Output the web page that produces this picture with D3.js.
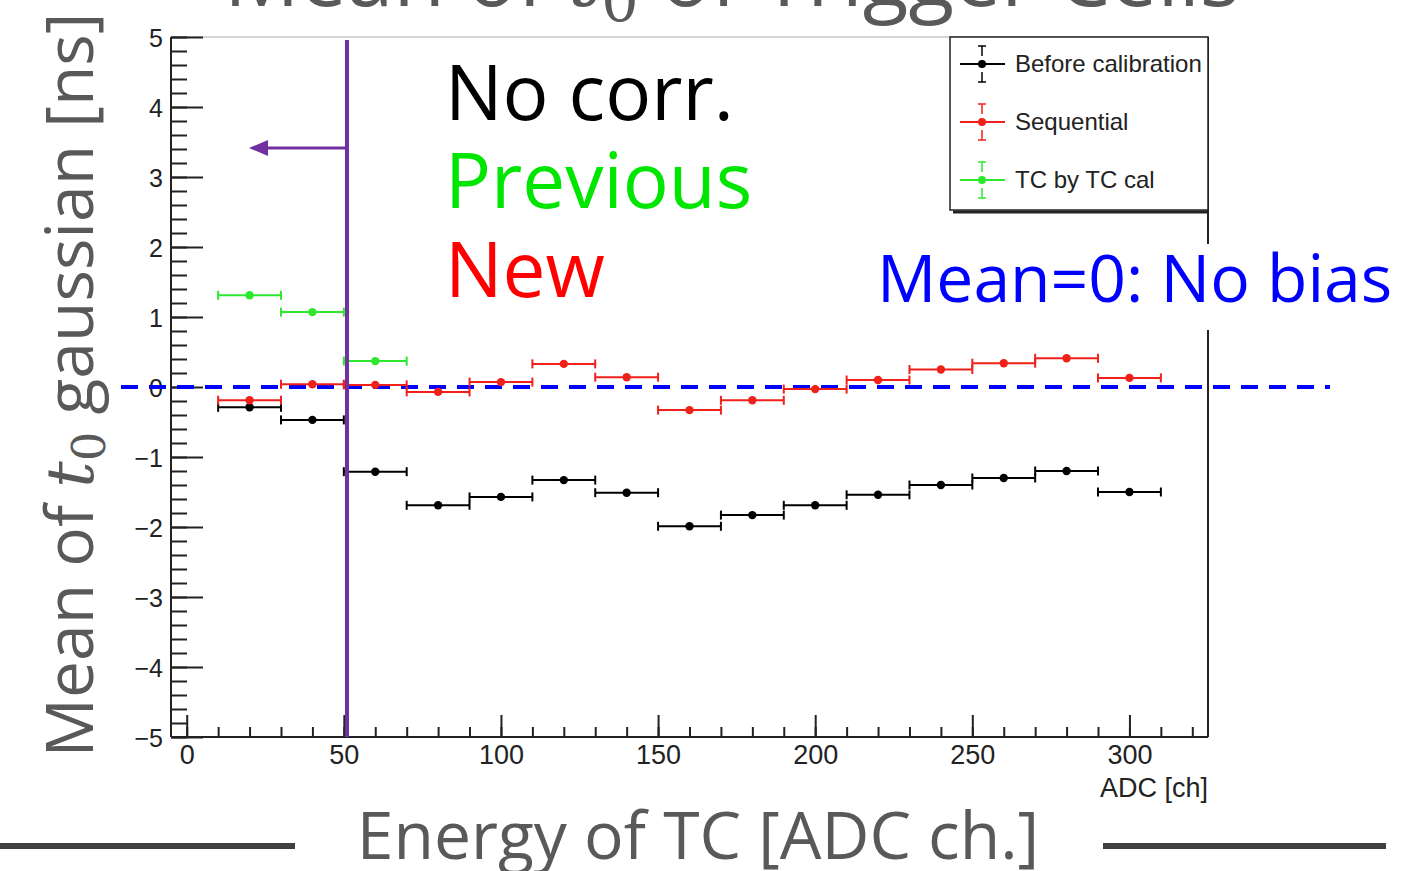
<!DOCTYPE html>
<html>
<head>
<meta charset="utf-8">
<script src="https://cdn.jsdelivr.net/npm/d3@7"></script>
<style>
  html, body { margin: 0; padding: 0; background: #fff; }
  svg { display: block; }
</style>
</head>
<body>
<svg id="chart" width="1426" height="871"></svg>
<script>
// ADC bin centres (bins are 20 ADC channels wide)
const adcBins = [20, 40, 60, 80, 100, 120, 140, 160, 180, 200, 220, 240, 260, 280, 300];
const binHalfWidth = 10;

// Mean of the t0 gaussian [ns] per bin
const beforeCalibration = [-0.29, -0.47, -1.21, -1.69, -1.57, -1.33, -1.51, -1.99, -1.83, -1.69, -1.54, -1.40, -1.30, -1.20, -1.50];
const sequential        = [-0.19, 0.04, 0.03, -0.07, 0.07, 0.33, 0.14, -0.33, -0.19, -0.03, 0.10, 0.25, 0.34, 0.41, 0.13];
const tcByTcBins        = [20, 40, 60];
const tcByTcCal         = [1.31, 1.07, 0.37];

// Axis ticks
const xMajorTicks = [0, 50, 100, 150, 200, 250, 300];
const xMinorTicks = d3.range(0, 330, 10);
const yMajorTicks = [-5, -4, -3, -2, -1, 0, 1, 2, 3, 4, 5];
const yMinorTicks = d3.range(-50, 51, 2).map(v => v / 10);

const legendLabels = ["Before calibration", "Sequential", "TC by TC cal"];
const cutValue = 51;   // energy threshold marker [ADC]

const svg = d3.select("#chart");
const W = 1426, H = 871;
svg.append("rect").attr("width", W).attr("height", H).attr("fill", "#fff");

const plot = { left: 171, right: 1208, top: 37, bottom: 737 };
const x = d3.scaleLinear().domain([-5, 325]).range([plot.left, plot.right]);
const y = d3.scaleLinear().domain([-5, 5]).range([plot.bottom, plot.top]);

const rootFont = "'Liberation Sans', Arial, Helvetica, sans-serif";
const slideFont = "'Open Sans', 'Noto Sans', sans-serif";
const slideGray = "#595959";

// ---- frame ----
svg.append("line").attr("x1", plot.left).attr("x2", plot.right)
  .attr("y1", plot.top).attr("y2", plot.top)
  .attr("stroke", "#d4d4d4").attr("stroke-width", 2);
svg.append("line").attr("x1", plot.right).attr("x2", plot.right)
  .attr("y1", plot.top).attr("y2", plot.bottom)
  .attr("stroke", "#222").attr("stroke-width", 2);

// ---- y axis (ROOT style: ticks point into the frame) ----
const yAxisG = svg.append("g").attr("transform", `translate(${plot.left},0)`);
yAxisG.call(d3.axisRight(y).tickValues(yMinorTicks).tickSize(16).tickFormat(""));
yAxisG.append("g").call(d3.axisRight(y).tickValues(yMajorTicks).tickSize(32).tickFormat(""));
yAxisG.selectAll(".domain").remove();
yAxisG.selectAll("line").attr("stroke", "#222").attr("stroke-width", 2);
svg.append("line").attr("x1", plot.left).attr("x2", plot.left)
  .attr("y1", plot.top).attr("y2", plot.bottom)
  .attr("stroke", "#222").attr("stroke-width", 2);

const yLabels = svg.append("g").attr("transform", `translate(${plot.left},0)`)
  .call(d3.axisLeft(y).tickValues(yMajorTicks).tickSize(0).tickPadding(8)
    .tickFormat(d => d < 0 ? "\u2212" + Math.abs(d) : String(d)));
yLabels.select(".domain").remove();
yLabels.selectAll("text").attr("font-family", rootFont).attr("font-size", 25)
  .attr("fill", "#222").attr("dy", "0.36em");

// ---- x axis ----
const xAxisG = svg.append("g").attr("transform", `translate(0,${plot.bottom})`);
xAxisG.call(d3.axisTop(x).tickValues(xMinorTicks).tickSize(10).tickFormat(""));
xAxisG.append("g").call(d3.axisTop(x).tickValues(xMajorTicks).tickSize(22).tickFormat(""));
xAxisG.selectAll(".domain").remove();
xAxisG.selectAll("line").attr("stroke", "#222").attr("stroke-width", 2);
svg.append("line").attr("x1", plot.left).attr("x2", plot.right)
  .attr("y1", plot.bottom).attr("y2", plot.bottom)
  .attr("stroke", "#222").attr("stroke-width", 2);

const xLabels = svg.append("g").attr("transform", `translate(0,${plot.bottom})`)
  .call(d3.axisBottom(x).tickValues(xMajorTicks).tickSize(0).tickPadding(8));
xLabels.select(".domain").remove();
xLabels.selectAll("text").attr("font-family", rootFont).attr("font-size", 27)
  .attr("fill", "#222");

svg.append("text").attr("x", plot.right).attr("y", 797)
  .attr("text-anchor", "end").attr("font-family", rootFont).attr("font-size", 27)
  .attr("fill", "#222").text("ADC [ch]");

// ---- reference line at zero bias ----
svg.append("line").attr("x1", 121).attr("x2", 1330)
  .attr("y1", y(0)).attr("y2", y(0))
  .attr("stroke", "#0000ff").attr("stroke-width", 4)
  .attr("stroke-dasharray", "17 11");

// ---- data series with horizontal bin-width error bars ----
function drawSeries(bins, values, color) {
  const g = svg.append("g");
  const pts = bins.map((b, i) => ({ b, v: values[i] }));
  g.selectAll("line.bar").data(pts).enter().append("line")
    .attr("x1", d => x(d.b - binHalfWidth)).attr("x2", d => x(d.b + binHalfWidth))
    .attr("y1", d => y(d.v)).attr("y2", d => y(d.v))
    .attr("stroke", color).attr("stroke-width", 2);
  [-1, 1].forEach(s => {
    g.selectAll(null).data(pts).enter().append("line")
      .attr("x1", d => x(d.b + s * binHalfWidth)).attr("x2", d => x(d.b + s * binHalfWidth))
      .attr("y1", d => y(d.v) - 4.5).attr("y2", d => y(d.v) + 4.5)
      .attr("stroke", color).attr("stroke-width", 2);
  });
  g.selectAll("circle").data(pts).enter().append("circle")
    .attr("cx", d => x(d.b)).attr("cy", d => y(d.v)).attr("r", 4.2)
    .attr("fill", color);
}
drawSeries(adcBins, beforeCalibration, "#000");
drawSeries(adcBins, sequential, "#f0201a");
drawSeries(tcByTcBins, tcByTcCal, "#2ee82e");

// ---- legend ----
const legend = svg.append("g");
legend.append("line").attr("x1", 953).attr("x2", 1209).attr("y1", 212).attr("y2", 212)
  .attr("stroke", "#222").attr("stroke-width", 3);
legend.append("rect").attr("x", 950).attr("y", plot.top).attr("width", plot.right - 950)
  .attr("height", 173).attr("fill", "#fff").attr("stroke", "#222").attr("stroke-width", 1.5);
const legendColors = ["#000", "#f0201a", "#2ee82e"];
legendLabels.forEach((lab, i) => {
  const cy = 64 + i * 58;
  const c = legendColors[i];
  const gi = legend.append("g");
  gi.append("line").attr("x1", 960).attr("x2", 1005).attr("y1", cy).attr("y2", cy)
    .attr("stroke", c).attr("stroke-width", 2);
  gi.append("line").attr("x1", 982).attr("x2", 982).attr("y1", cy - 18).attr("y2", cy - 8)
    .attr("stroke", c).attr("stroke-width", 1.5);
  gi.append("line").attr("x1", 982).attr("x2", 982).attr("y1", cy + 8).attr("y2", cy + 18)
    .attr("stroke", c).attr("stroke-width", 1.5);
  gi.append("line").attr("x1", 978).attr("x2", 986).attr("y1", cy - 18).attr("y2", cy - 18)
    .attr("stroke", c).attr("stroke-width", 1.5);
  gi.append("line").attr("x1", 978).attr("x2", 986).attr("y1", cy + 18).attr("y2", cy + 18)
    .attr("stroke", c).attr("stroke-width", 1.5);
  gi.append("circle").attr("cx", 982).attr("cy", cy).attr("r", 4).attr("fill", c);
  gi.append("text").attr("x", 1015).attr("y", cy + 8)
    .attr("font-family", rootFont).attr("font-size", 24).attr("fill", "#222").text(lab);
});

// ---- threshold marker ----
svg.append("line").attr("x1", x(cutValue)).attr("x2", x(cutValue))
  .attr("y1", 40).attr("y2", plot.bottom)
  .attr("stroke", "#7030a0").attr("stroke-width", 4);
const arrowY = 148;
svg.append("line").attr("x1", x(cutValue)).attr("x2", 262)
  .attr("y1", arrowY).attr("y2", arrowY)
  .attr("stroke", "#7030a0").attr("stroke-width", 3);
svg.append("path")
  .attr("d", `M249,${arrowY} L268,${arrowY - 8} L268,${arrowY + 8} Z`)
  .attr("fill", "#7030a0");

// ---- annotations ----
const notes = [
  { text: "No corr.", color: "#000", yb: 120 },
  { text: "Previous", color: "#00e600", yb: 208 },
  { text: "New", color: "#ff0000", yb: 297 }
];
svg.selectAll("text.note").data(notes).enter().append("text")
  .attr("class", "note").attr("x", 445).attr("y", d => d.yb)
  .attr("font-family", slideFont).attr("font-size", 76.5)
  .attr("fill", d => d.color).text(d => d.text);

svg.append("rect").attr("x", 868).attr("y", 244).attr("width", 534).attr("height", 86).attr("fill", "#fff");
svg.append("text").attr("x", 877).attr("y", 302)
  .attr("font-family", slideFont).attr("font-size", 66)
  .attr("fill", "#0000ff").text("Mean=0: No bias");

// ---- slide titles ----
function labelWithT0(sel, before, after, size) {
  sel.append("tspan").text(before);
  sel.append("tspan").attr("font-family", "'DejaVu Serif', serif").attr("font-style", "italic").text("t");
  sel.append("tspan").attr("font-family", "'DejaVu Serif', serif")
    .attr("font-size", size * 0.7).attr("dy", size * 0.18).text("0");
  sel.append("tspan").attr("dy", -size * 0.18).text(after);
}
const title = svg.append("text").attr("x", 732).attr("y", 6).attr("text-anchor", "middle")
  .attr("font-family", slideFont).attr("font-size", 84).attr("fill", slideGray);
labelWithT0(title, "Mean of ", " of Trigger Cells", 84);

const yTitle = svg.append("text").attr("transform", "translate(93,385) rotate(-90)")
  .attr("text-anchor", "middle").attr("font-family", slideFont).attr("font-size", 66)
  .attr("fill", slideGray);
labelWithT0(yTitle, "Mean of ", " gaussian [ns]", 66);

svg.append("text").attr("x", 698).attr("y", 859).attr("text-anchor", "middle")
  .attr("font-family", slideFont).attr("font-size", 66).attr("fill", slideGray)
  .text("Energy of TC [ADC ch.]");
svg.append("line").attr("x1", 0).attr("x2", 295).attr("y1", 846).attr("y2", 846)
  .attr("stroke", "#404040").attr("stroke-width", 6);
svg.append("line").attr("x1", 1103).attr("x2", 1386).attr("y1", 846).attr("y2", 846)
  .attr("stroke", "#404040").attr("stroke-width", 6);
</script>
</body>
</html>
